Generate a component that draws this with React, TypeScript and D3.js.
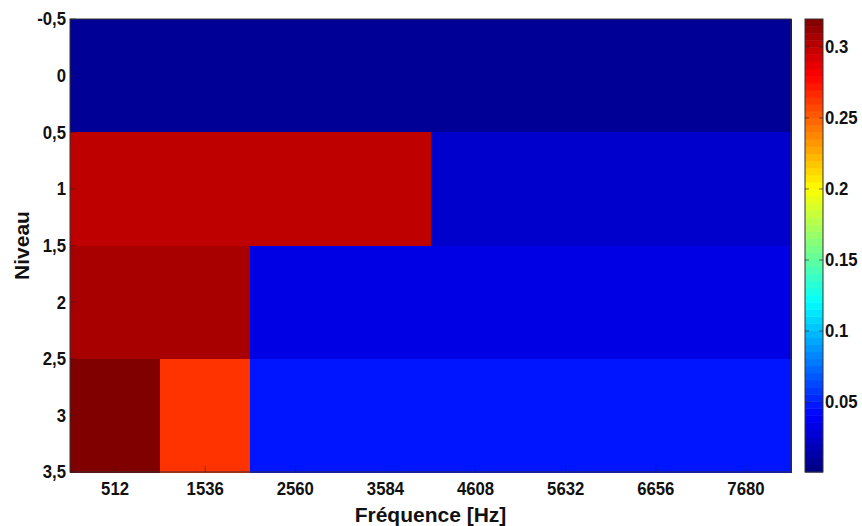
import React, { useEffect, useRef } from 'react';
import * as d3 from 'd3';

// wavelet packet energy per level (level n has 2^n bands over 0..8192 Hz)
const levels = [0, 1, 2, 3];
const energies = [
  [0.008],
  [0.300, 0.025],
  [0.307, 0.032, 0.032, 0.032],
  [0.320, 0.264, 0.047, 0.047, 0.047, 0.047, 0.047, 0.047],
];
const freqTicks = [512, 1536, 2560, 3584, 4608, 5632, 6656, 7680];
const levelTicks = [-0.5, 0, 0.5, 1, 1.5, 2, 2.5, 3, 3.5];
const colorTicks = [0.05, 0.1, 0.15, 0.2, 0.25, 0.3];
const colorDomain = [0.0007, 0.3197];
const fmax = 8192;

const jet = (t: number) => {
  const c = (v: number) => Math.max(0, Math.min(1, v));
  const r = c(1.5 - Math.abs(4 * t - 3));
  const g = c(1.5 - Math.abs(4 * t - 2));
  const b = c(1.5 - Math.abs(4 * t - 1));
  return d3.rgb(r * 255, g * 255, b * 255).formatHex();
};

const frNum = (v: number) => String(v).replace('.', ',');

function App() {
  const ref = useRef<SVGSVGElement>(null);

  useEffect(() => {
    const margin = { top: 19, left: 70 };
    const width = 721;
    const height = 453;
    const font = "'Liberation Sans', Arial, sans-serif";

    const svg = d3.select(ref.current);
    svg.selectAll('*').remove();

    const x = d3.scaleLinear().domain([0, fmax]).range([margin.left, margin.left + width]);
    const y = d3.scaleLinear().domain([-0.5, 3.5]).range([margin.top, margin.top + height]);
    const color = d3.scaleLinear().domain(colorDomain).range([0, 1]).clamp(true);

    const cells = levels.flatMap((lv, i) =>
      energies[i].map((e, j) => {
        const w = fmax / energies[i].length;
        return { lv, f0: j * w, f1: (j + 1) * w, e };
      })
    );

    svg.append('g')
      .attr('shape-rendering', 'crispEdges')
      .selectAll('rect')
      .data(cells)
      .join('rect')
      .attr('x', d => Math.round(x(d.f0)))
      .attr('y', d => Math.round(y(d.lv - 0.5)))
      .attr('width', d => Math.round(x(d.f1)) - Math.round(x(d.f0)) + 1)
      .attr('height', d => Math.round(y(d.lv + 0.5)) - Math.round(y(d.lv - 0.5)) + 1)
      .attr('fill', d => jet(color(d.e)));

    // frame
    svg.append('rect')
      .attr('x', margin.left).attr('y', margin.top)
      .attr('width', width).attr('height', height)
      .attr('fill', 'none').attr('stroke', '#333').attr('stroke-width', 1);

    // x ticks
    const gx = svg.append('g');
    gx.selectAll('line')
      .data(freqTicks)
      .join('line')
      .attr('x1', d => x(d)).attr('x2', d => x(d))
      .attr('y1', margin.top + height).attr('y2', margin.top + height - 6)
      .attr('stroke', '#222').attr('stroke-opacity', 0.5);
    gx.selectAll('text')
      .data(freqTicks)
      .join('text')
      .attr('transform', d => `translate(${x(d)},${margin.top + height + 23}) scale(0.93,1)`)
      .attr('text-anchor', 'middle')
      .attr('font-family', font).attr('font-weight', 'bold').attr('font-size', 18)
      .attr('fill', '#111')
      .text(d => d);

    // y ticks
    const gy = svg.append('g');
    gy.selectAll('line')
      .data(levelTicks)
      .join('line')
      .attr('x1', margin.left).attr('x2', margin.left + 6)
      .attr('y1', d => y(d)).attr('y2', d => y(d))
      .attr('stroke', '#222').attr('stroke-opacity', 0.5);
    gy.selectAll('text')
      .data(levelTicks)
      .join('text')
      .attr('transform', d => `translate(${margin.left - 4},${y(d)}) scale(0.93,1)`)
      .attr('dy', '0.36em')
      .attr('text-anchor', 'end')
      .attr('font-family', font).attr('font-weight', 'bold').attr('font-size', 18)
      .attr('fill', '#111')
      .text(d => frNum(d));

    // axis titles
    svg.append('text')
      .attr('x', margin.left + width / 2)
      .attr('y', 522)
      .attr('text-anchor', 'middle')
      .attr('font-family', font).attr('font-weight', 'bold').attr('font-size', 21)
      .attr('fill', '#111')
      .text('Fréquence [Hz]');
    svg.append('text')
      .attr('transform', `translate(29,${margin.top + height / 2}) rotate(-90)`)
      .attr('text-anchor', 'middle')
      .attr('font-family', font).attr('font-weight', 'bold').attr('font-size', 21)
      .attr('fill', '#111')
      .text('Niveau');

    // colorbar
    const cb = { x: 805, w: 18 };
    const cy = d3.scaleLinear().domain(colorDomain).range([margin.top + height, margin.top]);
    const steps = d3.range(64);
    const stepH = height / 64;
    svg.append('g')
      .selectAll('rect')
      .data(steps)
      .join('rect')
      .attr('x', cb.x)
      .attr('y', d => margin.top + height - (d + 1) * stepH)
      .attr('width', cb.w)
      .attr('height', stepH + 0.5)
      .attr('fill', d => jet((d + 0.5) / 64));
    svg.append('rect')
      .attr('x', cb.x).attr('y', margin.top)
      .attr('width', cb.w).attr('height', height)
      .attr('fill', 'none').attr('stroke', '#333').attr('stroke-width', 1);
    const gc = svg.append('g');
    gc.selectAll('line.l')
      .data(colorTicks)
      .join('line')
      .attr('class', 'l')
      .attr('x1', cb.x).attr('x2', cb.x + 4)
      .attr('y1', d => cy(d)).attr('y2', d => cy(d))
      .attr('stroke', '#222').attr('stroke-opacity', 0.6);
    gc.selectAll('line.r')
      .data(colorTicks)
      .join('line')
      .attr('class', 'r')
      .attr('x1', cb.x + cb.w - 4).attr('x2', cb.x + cb.w)
      .attr('y1', d => cy(d)).attr('y2', d => cy(d))
      .attr('stroke', '#222').attr('stroke-opacity', 0.6);
    gc.selectAll('text')
      .data(colorTicks)
      .join('text')
      .attr('transform', d => `translate(${cb.x + cb.w + 2},${cy(d)}) scale(0.93,1)`)
      .attr('dy', '0.36em')
      .attr('font-family', font).attr('font-weight', 'bold').attr('font-size', 18)
      .attr('fill', '#111')
      .text(d => String(d));
  }, []);

  return (
    <svg
      ref={ref}
      width={862}
      height={526}
      style={{ position: 'absolute', left: 0, top: 0, background: '#fff' }}
    />
  );
}

export default App;
